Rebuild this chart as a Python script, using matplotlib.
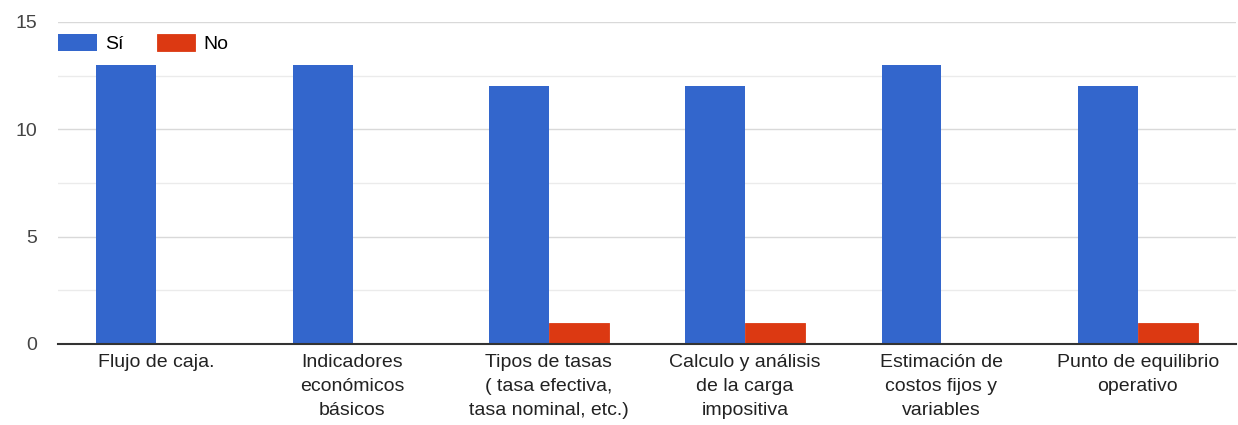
import numpy as np
import matplotlib.pyplot as plt
from matplotlib.ticker import MultipleLocator

plt.rcParams['font.family'] = ['Liberation Sans', 'DejaVu Sans']

categories = [
    'Flujo de caja.',
    'Indicadores\neconómicos\nbásicos',
    'Tipos de tasas\n( tasa efectiva,\ntasa nominal, etc.)',
    'Calculo y análisis\nde la carga\nimpositiva',
    'Estimación de\ncostos fijos y\nvariables',
    'Punto de equilibrio\noperativo',
]
si = [13, 13, 12, 12, 13, 12]
no = [0, 0, 1, 1, 0, 1]

blue = '#3366CC'
red = '#DC3912'

fig = plt.figure(figsize=(12.38, 4.25), dpi=100)
ax = fig.add_axes([58 / 1238, 81 / 425, 1178 / 1238, 322 / 425])

x = np.arange(len(categories))
w = 0.305
ax.bar(x - w / 2, si, w, color=blue, label='Sí', zorder=3)
ax.bar(x + w / 2, no, w, color=red, label='No', zorder=3,
       edgecolor=red, linewidth=0.6)

ax.set_xlim(-0.5, len(categories) - 0.5)
ax.set_ylim(0, 15)
ax.yaxis.set_major_locator(MultipleLocator(5))
ax.yaxis.set_minor_locator(MultipleLocator(2.5))
ax.grid(True, axis='y', which='major', color='#d9d9d9', linewidth=1, zorder=0)
ax.grid(True, axis='y', which='minor', color='#ebebeb', linewidth=1, zorder=0)

for side in ['top', 'right', 'left']:
    ax.spines[side].set_visible(False)
ax.spines['bottom'].set_color('#333333')
ax.spines['bottom'].set_linewidth(1.5)
ax.spines['bottom'].set_zorder(4)

ax.set_xticks(x)
ax.set_xticklabels(categories, fontsize=14, color='#222222',
                   linespacing=1.55, va='top')
ax.tick_params(axis='x', length=0, pad=7)
ax.tick_params(axis='y', which='both', length=0, pad=15,
               labelsize=14, labelcolor='#444444')

ax.legend(loc='upper left', bbox_to_anchor=(0, 0.962), ncol=2,
          frameon=False, fontsize=14, borderpad=0, borderaxespad=0,
          handlelength=2.0, handleheight=0.95, handletextpad=0.42,
          columnspacing=1.7)

fig.savefig('out.png', dpi=100, facecolor='white')
